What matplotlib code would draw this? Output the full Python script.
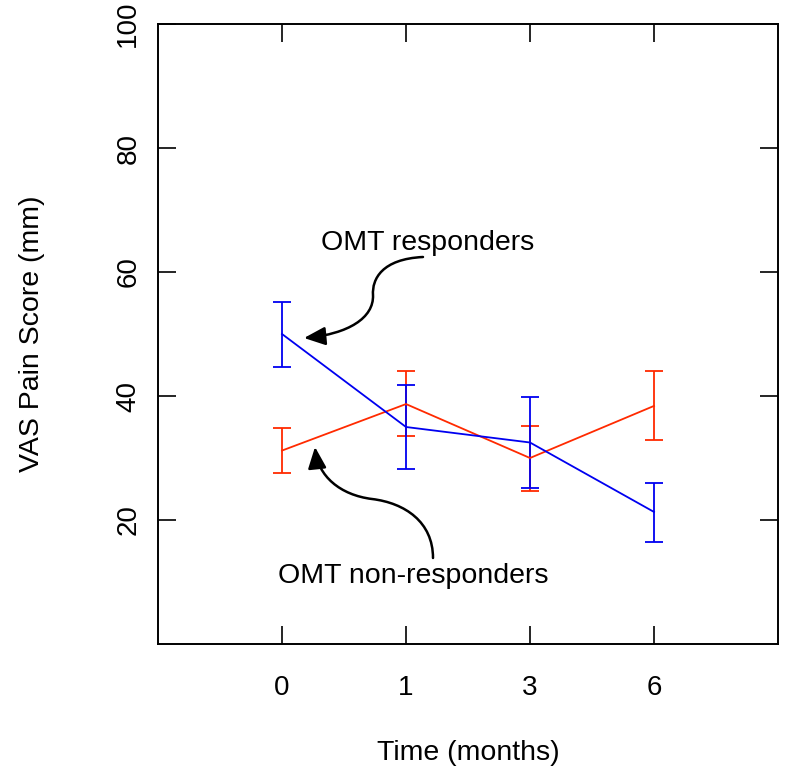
import matplotlib
matplotlib.use("Agg")
import matplotlib.pyplot as plt
import numpy as np
from matplotlib.path import Path
from matplotlib.patches import FancyArrowPatch

plt.rcParams['font.family'] = ['Liberation Sans', 'DejaVu Sans']

time_labels = ["0", "1", "3", "6"]
resp_mean = [50.0, 35.0, 32.5, 21.3]
resp_low = [44.7, 28.2, 25.2, 16.5]
resp_high = [55.2, 41.8, 39.8, 26.0]
nonresp_mean = [31.2, 38.7, 30.0, 38.4]
nonresp_low = [27.6, 33.6, 24.7, 32.9]
nonresp_high = [34.8, 44.1, 35.2, 44.0]
y_ticks = [20, 40, 60, 80, 100]

RED = '#FF2A00'
BLUE = '#0000F0'

fig = plt.figure(figsize=(7.89, 7.77), dpi=100)
ax = fig.add_axes([158/789, 1-644/777, 620/789, 620/777])

x = np.arange(1, len(time_labels) + 1)

def draw(mean, low, high, color):
    mean = np.array(mean); low = np.array(low); high = np.array(high)
    ax.errorbar(x, mean, yerr=[mean - low, high - mean], color=color,
                lw=1.3, elinewidth=1.3, capsize=6.5, capthick=1.3)

draw(nonresp_mean, nonresp_low, nonresp_high, RED)
draw(resp_mean, resp_low, resp_high, BLUE)

ax.set_xlim(0, 5)
ax.set_ylim(0, 100)
ax.set_xticks(x)
ax.set_xticklabels(time_labels)
ax.set_yticks(y_ticks)
ax.set_yticklabels([str(v) for v in y_ticks], rotation=90, va='center')
ax.tick_params(axis='both', direction='in', length=13, width=1.2,
               labelsize=20, top=True, right=True)
ax.tick_params(axis='x', pad=22)
ax.tick_params(axis='y', pad=12)
for s in ax.spines.values():
    s.set_linewidth(1.4)

ax.set_xlabel("Time (months)", fontsize=20.5)
ax.set_ylabel("VAS Pain Score (mm)", fontsize=20.5)
ax.xaxis.set_label_coords(0.5, -0.155)
ax.yaxis.set_label_coords(-0.183, 0.5)

def px2d(px, py):
    return ((px - 158) / 124.0, (644 - py) / 6.2)

ax.text(*px2d(428, 243), "OMT responders", fontsize=20.5, ha='center', va='center')
ax.text(*px2d(413, 576), "OMT non-responders", fontsize=20.5, ha='center', va='center')

def curve_arrow(pts):
    verts = [px2d(*p) for p in pts]
    codes = [Path.MOVETO] + [Path.CURVE4] * (len(verts) - 1)
    arr = FancyArrowPatch(path=Path(verts, codes), arrowstyle='-|>,head_length=0.65,head_width=0.28',
                          color='black', lw=1.8, mutation_scale=20)
    arr.set_transform(ax.transData)
    ax.add_patch(arr)

curve_arrow([(423, 257), (382, 259), (372, 279), (373, 295),
             (374, 318), (348, 334), (304, 338)])
curve_arrow([(433, 558), (433, 522), (405, 503), (372, 499),
             (340, 495), (318, 476), (315, 447)])

fig.savefig("out.png", dpi=100)
